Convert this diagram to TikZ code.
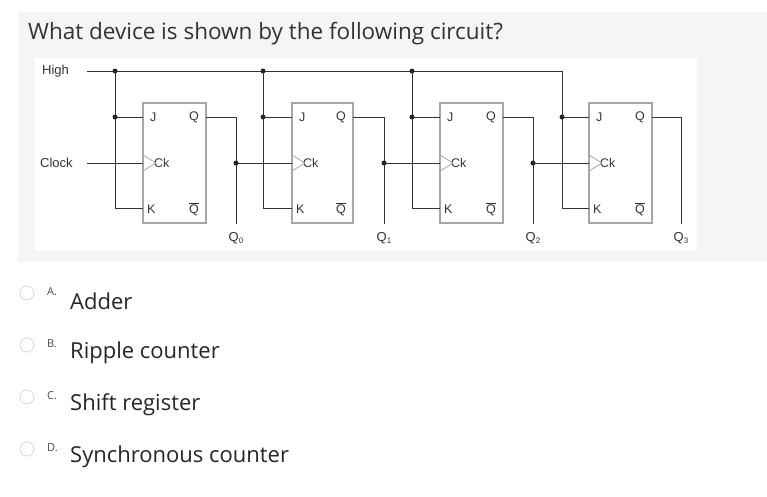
\documentclass[tikz,border=0pt]{standalone}
\usepackage{fontspec}
\setmainfont{Open Sans}
\newfontfamily\arial{Liberation Sans}
\begin{document}
\begin{tikzpicture}[x=1pt,y=-1pt,
  w/.style={line width=1pt,black!80},
  ff/.style={draw=gray!70,line width=1.1pt},
  dot/.style={circle,fill=black!85,inner sep=0pt,minimum size=5pt},
  lab/.style={font=\arial\fontsize{13}{15}\selectfont,text=black!80,inner sep=0pt},
  pin/.style={font=\arial\fontsize{12.5}{15}\selectfont,text=black!80,inner sep=1pt},
  opt/.style={font=\fontsize{22}{26}\selectfont,text=black!85,anchor=west,inner sep=0pt},
  ltr/.style={font=\fontsize{11}{13}\selectfont,text=black!70,anchor=west,inner sep=0pt},
  rad/.style={circle,draw=gray!30,line width=0.8pt,minimum size=14pt,inner sep=0pt}]
\useasboundingbox (0,0) rectangle (767,496);
\fill[white] (0,0) rectangle (767,496);
\fill[gray!8] (18,12) rectangle (767,262);
\fill[white] (35,58) rectangle (697,250);
\node[anchor=west,inner sep=0pt,font=\fontsize{22.5}{26}\selectfont,text=black!80] (title) at (28,34) {What device is shown by the following circuit?};
\node[lab,anchor=west] (high) at (42,71) {High};
\node[lab,anchor=west] (clock) at (40,163) {Clock};
\coordinate (hs) at (87,71);
\coordinate (cs) at (87,163);
\foreach \i/\xa/\xb/\bus/\qx/\qn in {1/143/206/115/236/0, 2/292/353/263/384/1, 3/440/503/412/533/2, 4/589/652/562/681/3}{
  \draw[ff] (\xa,103) rectangle (\xb,223);
  \node[pin,anchor=west] (j\i) at (\xa+6,117) {J};
  \node[pin,anchor=east] (q\i) at (\xb-6,117) {Q};
  \node[pin,anchor=west] (ck\i) at (\xa+10,163) {Ck};
  \draw[ff,line width=0.8pt] (\xa,155) -- (\xa+13,163) -- (\xa,171);
  \node[pin,anchor=west] (k\i) at (\xa+3,209) {K};
  \node[pin,anchor=east] (qb\i) at (\xb-6,209) {$\overline{\mbox{Q}}$};
  \coordinate (bt\i) at (\bus,71);
  \coordinate (bj\i) at (\bus,117);
  \coordinate (bk\i) at (\bus,208);
  \draw[w] (bt\i) -- (bk\i) -- (\xa,208);
  \draw[w] (bj\i) -- (\xa,117);
  \node[dot] at (bj\i) {};
  \coordinate (qc\i) at (\qx,117);
  \coordinate (qe\i) at (\qx,224);
  \draw[w] (\xb,117) -- (qc\i) -- (qe\i);
  \node[lab] (ql\i) at (\qx,238) {Q\raisebox{-2pt}{\fontsize{8}{9}\selectfont\qn}};
}
\draw[w] (hs) -- (bt4) -- (bj4);
\node[dot] at (bt1) {};\node[dot] at (bt2) {};\node[dot] at (bt3) {};
\draw[w] (cs) -- (143,163);
\draw[w] (236,163) -- (292,163);
\draw[w] (384,163) -- (440,163);
\draw[w] (533,163) -- (589,163);
\node[dot] at (236,163) {};\node[dot] at (384,163) {};\node[dot] at (533,163) {};
\foreach \y/\l/\t/\n in {293/A./Adder/a, 345/B./Ripple counter/b, 397/C./Shift register/c, 449/D./Synchronous counter/d}{
  \node[rad] (r\n) at (27,\y) {};
  \node[ltr] (l\n) at (47,\y-1) {\l};
  \node[opt] (o\n) at (70,\y+8) {\t};
}
\end{tikzpicture}
\end{document}
